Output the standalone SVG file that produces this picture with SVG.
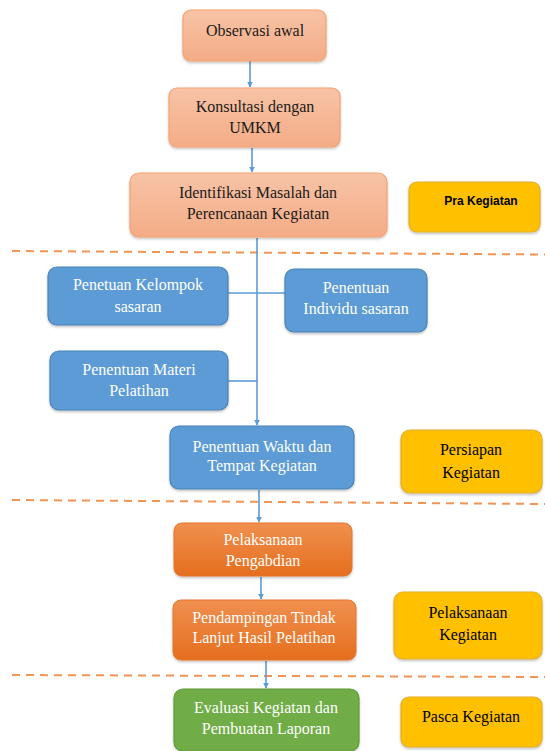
<svg xmlns="http://www.w3.org/2000/svg" width="545" height="751" viewBox="0 0 545 751">
<defs>
<linearGradient id="gSal" x1="0" y1="0" x2="0" y2="1"><stop offset="0" stop-color="#F7C3A6"/><stop offset="1" stop-color="#F4AC86"/></linearGradient>
<linearGradient id="gOr" x1="0" y1="0" x2="0" y2="1"><stop offset="0" stop-color="#F0904F"/><stop offset="1" stop-color="#E56E1E"/></linearGradient>
<filter id="sh" x="-10%" y="-10%" width="120%" height="130%"><feDropShadow dx="0" dy="1.5" stdDeviation="1.2" flood-color="#000" flood-opacity="0.25"/></filter>
<marker id="ah" viewBox="0 0 10 10" refX="9" refY="5" markerWidth="6" markerHeight="6" orient="auto" markerUnits="userSpaceOnUse"><path d="M0,0 L10,5 L0,10 z" fill="#5B9BD5"/></marker>
</defs>
<style>
.sal{fill:url(#gSal);stroke:#F4A270;stroke-width:1.2}
.blu{fill:#5B9BD5;stroke:#4A84BA;stroke-width:1.2}
.org{fill:url(#gOr);stroke:#E8752A;stroke-width:1}
.grn{fill:#70AD47;stroke:#5F9A3A;stroke-width:1.2}
.yel{fill:#FFC000;stroke:#E3AE2A;stroke-width:1.2}
text{font-family:"Liberation Serif","Times New Roman",serif;font-size:16px;text-anchor:middle}
.dk{fill:#1a1a1a}
.wt{fill:#fff}
.bk{fill:#000}
.sans{font-family:"Liberation Sans",Arial,sans-serif;font-size:12px;font-weight:bold}
.cn{fill:none;stroke:#5B9BD5;stroke-width:1.6}
.ds{fill:none;stroke:#F29455;stroke-width:2;stroke-dasharray:8 6}
</style>
<g id="dividers">
<line class="ds" x1="12" y1="251" x2="545" y2="254.5"/>
<line class="ds" x1="12" y1="500" x2="545" y2="504"/>
<line class="ds" x1="12" y1="675" x2="545" y2="677"/>
</g>
<g id="connectors">
<line class="cn" x1="250" y1="61" x2="250" y2="87" marker-end="url(#ah)"/>
<line class="cn" x1="252" y1="148" x2="252" y2="172" marker-end="url(#ah)"/>
<line class="cn" x1="257" y1="238" x2="257" y2="425" marker-end="url(#ah)"/>
<line class="cn" x1="228" y1="293" x2="285" y2="293"/>
<line class="cn" x1="228" y1="381" x2="257" y2="381"/>
<line class="cn" x1="259" y1="490" x2="259" y2="522" marker-end="url(#ah)"/>
<line class="cn" x1="261" y1="577" x2="261" y2="599" marker-end="url(#ah)"/>
<line class="cn" x1="266" y1="661" x2="266" y2="688" marker-end="url(#ah)"/>
</g>
<g id="n-observasi"><rect class="sal" x="183" y="10" width="143" height="51" rx="8" filter="url(#sh)"/><text class="dk" x="255" y="36">Observasi awal</text></g>
<g id="n-konsultasi"><rect class="sal" x="169" y="88" width="171" height="59" rx="8" filter="url(#sh)"/><text class="dk" x="255" y="112">Konsultasi dengan</text><text class="dk" x="255" y="133">UMKM</text></g>
<g id="n-identifikasi"><rect class="sal" x="130" y="173" width="257" height="64" rx="9" filter="url(#sh)"/><text class="dk" x="258" y="198">Identifikasi Masalah dan</text><text class="dk" x="258" y="219">Perencanaan Kegiatan</text></g>
<g id="n-pra"><rect class="yel" x="409" y="182" width="131" height="50" rx="8" filter="url(#sh)"/><text class="sans bk" x="481" y="205">Pra Kegiatan</text></g>
<g id="n-kelompok"><rect class="blu" x="48" y="267" width="180" height="58" rx="9" filter="url(#sh)"/><text class="wt" x="138" y="290">Penetuan Kelompok</text><text class="wt" x="138" y="312">sasaran</text></g>
<g id="n-individu"><rect class="blu" x="285" y="269" width="142" height="63" rx="9" filter="url(#sh)"/><text class="wt" x="356" y="293">Penentuan</text><text class="wt" x="356" y="314">Individu sasaran</text></g>
<g id="n-materi"><rect class="blu" x="50" y="351" width="178" height="59" rx="9" filter="url(#sh)"/><text class="wt" x="139" y="375">Penentuan Materi</text><text class="wt" x="139" y="396">Pelatihan</text></g>
<g id="n-waktu"><rect class="blu" x="170" y="426" width="184" height="63" rx="9" filter="url(#sh)"/><text class="wt" x="262" y="452">Penentuan Waktu dan</text><text class="wt" x="262" y="471">Tempat Kegiatan</text></g>
<g id="n-persiapan"><rect class="yel" x="401" y="430" width="141" height="63" rx="9" filter="url(#sh)"/><text class="bk" x="471" y="455">Persiapan</text><text class="bk" x="471" y="478">Kegiatan</text></g>
<g id="n-pengabdian"><rect class="org" x="174" y="523" width="178" height="53" rx="8" filter="url(#sh)"/><text class="wt" x="263" y="545">Pelaksanaan</text><text class="wt" x="263" y="566">Pengabdian</text></g>
<g id="n-pendampingan"><rect class="org" x="173" y="600" width="183" height="60" rx="8" filter="url(#sh)"/><text class="wt" x="264" y="623">Pendampingan Tindak</text><text class="wt" x="264" y="643">Lanjut Hasil Pelatihan</text></g>
<g id="n-pelaksanaan"><rect class="yel" x="394" y="592" width="148" height="67" rx="9" filter="url(#sh)"/><text class="bk" x="468" y="618">Pelaksanaan</text><text class="bk" x="468" y="640">Kegiatan</text></g>
<g id="n-evaluasi"><rect class="grn" x="174" y="689" width="185" height="62" rx="9" filter="url(#sh)"/><text class="wt" x="266" y="713">Evaluasi Kegiatan dan</text><text class="wt" x="266" y="734">Pembuatan Laporan</text></g>
<g id="n-pasca"><rect class="yel" x="401" y="697" width="141" height="50" rx="8" filter="url(#sh)"/><text class="bk" x="471" y="722">Pasca Kegiatan</text></g>
</svg>
